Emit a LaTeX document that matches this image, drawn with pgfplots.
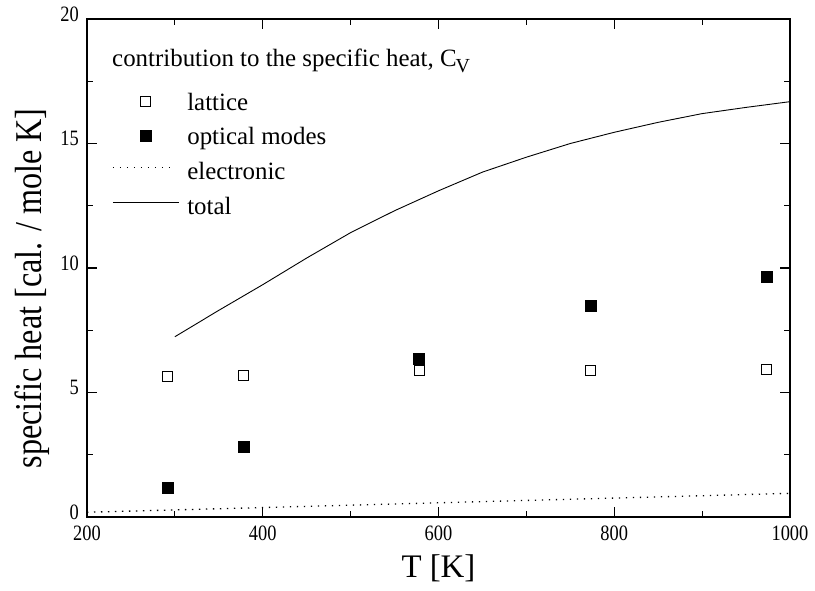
\documentclass[border=0pt]{standalone}
\usepackage{fontspec}
\setmainfont{Liberation Serif}
\usepackage{graphicx}
\usepackage{pgfplots}
\pgfplotsset{compat=1.18}
\pgfplotsset{
  markimg/.style={legend image code/.code={\path[draw=none,fill=none] (0bp,0bp) -- (64bp,0bp); \draw[##1] plot coordinates {(33bp,3.5bp)};}},
  lineimg/.style={legend image code/.code={\draw[##1] (0bp,6.5bp) -- (#1,6.5bp);}},
}
\begin{document}
\begin{tikzpicture}
\useasboundingbox (-87bp,-74bp) rectangle (728bp,517bp);
\begin{axis}[
  at={(0,0)}, anchor=south west,
  scale only axis, width=703bp, height=498bp,
  xmin=200, xmax=1000, ymin=0, ymax=20,
  xtick={200,400,...,1000}, minor xtick={300,500,700,900},
  ytick={0,5,...,20}, minor ytick={2.5,7.5,12.5,17.5},
  tick align=inside,
  major tick length=10bp, minor tick length=6bp,
  axis line style={line width=1.2bp},
  every tick/.style={black, line width=1.2bp},
  /pgf/number format/assume math mode=true,
  /pgf/number format/1000 sep={},
  tick label style={font=\fontsize{22}{22}\selectfont, inner sep=1bp},
  xticklabel={\scalebox{0.84}[1]{\pgfmathprintnumber{\tick}}},
  yticklabel={\scalebox{0.84}[1]{\pgfmathprintnumber{\tick}}},
  xticklabel style={yshift=-8bp},
  yticklabel style={yshift=5bp, xshift=-7bp},
  xlabel={T [K]},
  ylabel={\scalebox{0.85}[1]{specific heat [cal. / mole K]}},
  xlabel style={at={(axis description cs:0.5,0)}, anchor=base, yshift=-60bp, inner sep=0pt, font=\fontsize{33}{33}\selectfont},
  ylabel style={at={(axis description cs:-0.0654,0.459)}, anchor=base, inner sep=0pt, font=\fontsize{38}{38}\selectfont},
  legend style={at={(axis description cs:0,1)}, anchor=north west, xshift=25bp, yshift=-74bp,
    draw=none, fill=none, inner sep=0pt, row sep=11.7bp, column sep=8bp,
    font=\fontsize{25}{25}\selectfont,
    nodes={inner sep=0pt, text height=17bp, text depth=6bp}},
  legend cell align=left,
]
\addplot[only marks, mark=square, mark size=5bp, mark options={line width=1bp, fill=white}, markimg]
  coordinates {(292,5.63) (378,5.69) (578,5.88) (773,5.90) (973,5.94)};
\addlegendentry{lattice}
\addplot[only marks, mark=square*, mark size=5.5bp, black, markimg]
  coordinates {(292,1.16) (378,2.82) (578,6.37) (773,8.47) (973,9.65)};
\addlegendentry{optical modes}
\addplot[black, line width=1.3bp, dash pattern=on 1.3bp off 5.7bp, lineimg=58bp]
  coordinates {(200,0.19) (300,0.285) (400,0.38) (500,0.475) (600,0.57) (700,0.665) (800,0.76) (900,0.855) (1000,0.95)};
\addlegendentry{electronic}
\addplot[black, line width=0.9bp, lineimg=66bp]
  coordinates {(300,7.24) (350,8.3) (400,9.33) (450,10.4) (500,11.42) (550,12.3) (600,13.1) (650,13.85) (700,14.45) (750,15.0) (800,15.45) (850,15.85) (900,16.2) (950,16.45) (1000,16.68)};
\addlegendentry{total}
\node[anchor=base west, inner sep=0pt, xshift=25bp, yshift=-48bp, font=\fontsize{25}{25}\selectfont] at (rel axis cs:0,1)
  {contribution to the specific heat, C\kern-1bp\raisebox{-6bp}{\fontsize{20}{20}\selectfont V}};
\end{axis}
\end{tikzpicture}
\end{document}
